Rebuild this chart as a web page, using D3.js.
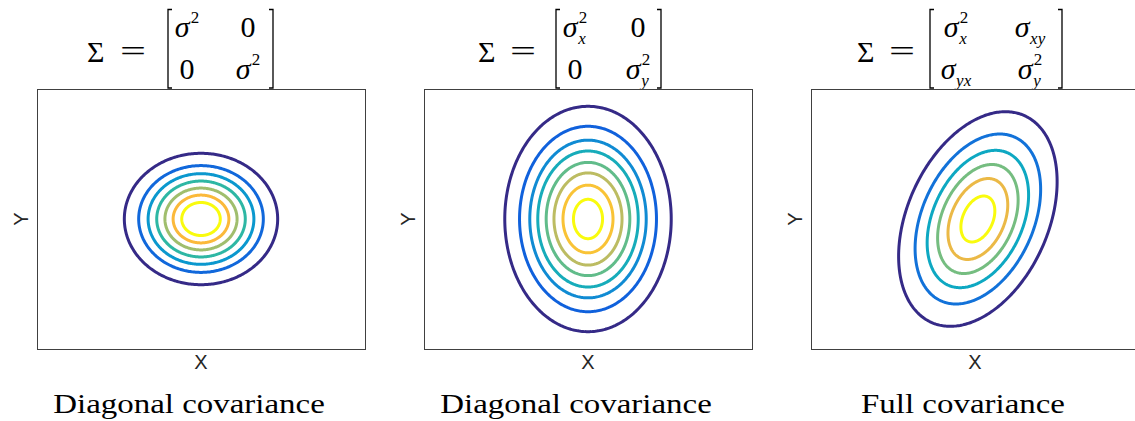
<!DOCTYPE html>
<html>
<head>
<meta charset="utf-8">
<script src="https://cdn.jsdelivr.net/npm/d3@7"></script>
<style>
  body { margin: 0; background: #fff; }
  svg { display: block; }
</style>
</head>
<body>
<svg id="chart" width="1135" height="421"></svg>
<script>
// ---- data -------------------------------------------------------------
// Caption under each panel
const captions = ["Diagonal covariance", "Diagonal covariance", "Full covariance"];

// Entries of the covariance matrix printed above each panel: b = base, sup/sub = scripts
const matrix1 = [[{b: "σ", sup: "2"}, {b: "0"}], [{b: "0"}, {b: "σ", sup: "2"}]];
const matrix2 = [[{b: "σ", sup: "2", sub: "x"}, {b: "0"}], [{b: "0"}, {b: "σ", sup: "2", sub: "y"}]];
const matrix3 = [[{b: "σ", sup: "2", sub: "x"}, {b: "σ", sub: "xy"}], [{b: "σ", sub: "yx"}, {b: "σ", sup: "2", sub: "y"}]];

// Gaussian parameters of each panel
const meanX = [0, 0, 0.07];
const meanY = [0, 0, 0];
const sigmaX = [1, 1, 1];
const sigmaY = [1, 1.58, 1.58];
const covXY = [0, 0, 0.55];

// Mahalanobis radius of every contour line, outermost (lowest level) first
const radii1 = [1.87, 1.52, 1.29, 1.08, 0.88, 0.68, 0.47];
const radii2 = [2.03, 1.67, 1.42, 1.225, 1.02, 0.83, 0.61, 0.355];
const radii3 = [1.933, 1.531, 1.237, 0.982, 0.729, 0.414];

// Axis extents (shared by the three panels)
const xDomain = [-4, 4];
const yDomain = [-3.7, 3.7];

// ---- layout -----------------------------------------------------------
const svg = d3.select("#chart");
const SERIF = "'Liberation Serif', 'DejaVu Serif', serif";
const SANS = "'Liberation Sans', Arial, sans-serif";
const box = {top: 89, width: 328, height: 260, step: 387, left0: 37};

// header layout relative to the panel's left edge
const headerLayout = [
  {sigma: 50, eq: 83, bl: 131, br: 236, c1: 150, c2: 211},
  {sigma: 54, eq: 86, bl: 132, br: 237, c1: 151, c2: 214},
  {sigma: 46, eq: 78, bl: 119, br: 251, c1: 145, c2: 219}
];

// parula colour ramp for the contour levels
const parula = d3.scaleLinear()
  .domain([0, 0.125, 0.25, 0.375, 0.5, 0.625, 0.75, 0.83, 0.9, 1])
  .range(["#352a87", "#0f5cdd", "#1481d6", "#06a4ca", "#2eb7a4", "#87bf77", "#d1bb59", "#fbb83b", "#f5d52d", "#f9fb0e"])
  .interpolate(d3.interpolateRgb);

const x = d3.scaleLinear().domain(xDomain).range([0, box.width]);
const y = d3.scaleLinear().domain(yDomain).range([box.height, 0]);

const matrices = [matrix1, matrix2, matrix3];
const radii = [radii1, radii2, radii3];
const angles = d3.range(0, 2 * Math.PI, Math.PI / 180);

function drawEntry(parent, cx, baseline, e) {
  const g = parent.append("g").attr("font-family", SERIF).attr("fill", "#000");
  const base = g.append("text").attr("y", baseline).attr("font-size", 30)
    .attr("font-style", e.b === "σ" ? "italic" : "normal").text(e.b);
  const wb = base.node().getComputedTextLength();
  let w = wb;
  if (e.sup) {
    const s = g.append("text").attr("x", wb + 1).attr("y", baseline - 14)
      .attr("font-size", 17).text(e.sup);
    w = Math.max(w, wb + 1 + s.node().getComputedTextLength());
  }
  if (e.sub) {
    const s = g.append("text").attr("x", wb + 0.5).attr("y", baseline + 7)
      .attr("font-size", 17).attr("font-style", "italic").text(e.sub);
    w = Math.max(w, wb + 0.5 + s.node().getComputedTextLength());
  }
  g.attr("transform", `translate(${cx - w / 2},0)`);
}

matrices.forEach((mat, p) => {
  const left = box.left0 + p * box.step;
  const L = headerLayout[p];

  // header: Σ = [ ... ]
  const h = svg.append("g").attr("transform", `translate(${left},0)`);
  h.append("text").attr("x", L.sigma).attr("y", 62).attr("font-family", SERIF)
    .attr("font-size", 30).text("Σ");
  h.append("text").attr("x", L.eq).attr("y", 61).attr("font-family", SERIF)
    .attr("font-size", 30).attr("textLength", 26).attr("lengthAdjust", "spacingAndGlyphs").text("=");
  h.append("path").attr("fill", "none").attr("stroke", "#000").attr("stroke-width", 1.3)
    .attr("d", `M${L.bl + 4},9.5H${L.bl}V88H${L.bl + 4}M${L.br - 4},9.5H${L.br}V88H${L.br - 4}`);
  const rowBase = [37, 79];
  mat.forEach((row, r) => row.forEach((e, c) => drawEntry(h, c === 0 ? L.c1 : L.c2, rowBase[r], e)));

  // axes box with contour ellipses
  const g = svg.append("g").attr("transform", `translate(${left},${box.top})`);
  g.append("rect").attr("x", 0.5).attr("y", 0.5).attr("width", box.width).attr("height", box.height)
    .attr("fill", "#fff").attr("stroke", "#404040").attr("stroke-width", 1);

  const a = sigmaX[p] * sigmaX[p], b = sigmaY[p] * sigmaY[p], cxy = covXY[p];
  const l11 = Math.sqrt(a), l21 = cxy / l11, l22 = Math.sqrt(b - l21 * l21);
  const line = d3.line().curve(d3.curveLinearClosed);
  const n = radii[p].length;
  g.selectAll("path.contour").data(radii[p]).join("path")
    .attr("class", "contour")
    .attr("fill", "none")
    .attr("stroke", (d, i) => parula(i / (n - 1)))
    .attr("stroke-width", 3)
    .attr("d", rr => line(angles.map(t => {
      const u = Math.cos(t), v = Math.sin(t);
      return [x(meanX[p] + rr * l11 * u), y(meanY[p] + rr * (l21 * u + l22 * v))];
    })));

  // axis labels
  g.append("text").attr("x", box.width / 2).attr("y", 280).attr("text-anchor", "middle")
    .attr("font-family", SANS).attr("font-size", 20).attr("fill", "#262626").text("X");
  g.append("text").attr("transform", `translate(-9,${box.height / 2}) rotate(-90)`)
    .attr("text-anchor", "middle").attr("font-family", SANS).attr("font-size", 20)
    .attr("fill", "#262626").text("Y");

  // caption
  const cap = svg.append("text").attr("x", left + box.width / 2 - 12).attr("y", 413)
    .attr("text-anchor", "middle").attr("font-family", SERIF).attr("font-size", 27)
    .attr("fill", "#000").text(captions[p]);
  const natural = cap.node().getComputedTextLength();
  cap.attr("textLength", natural * 1.22).attr("lengthAdjust", "spacingAndGlyphs");
});
</script>
</body>
</html>
